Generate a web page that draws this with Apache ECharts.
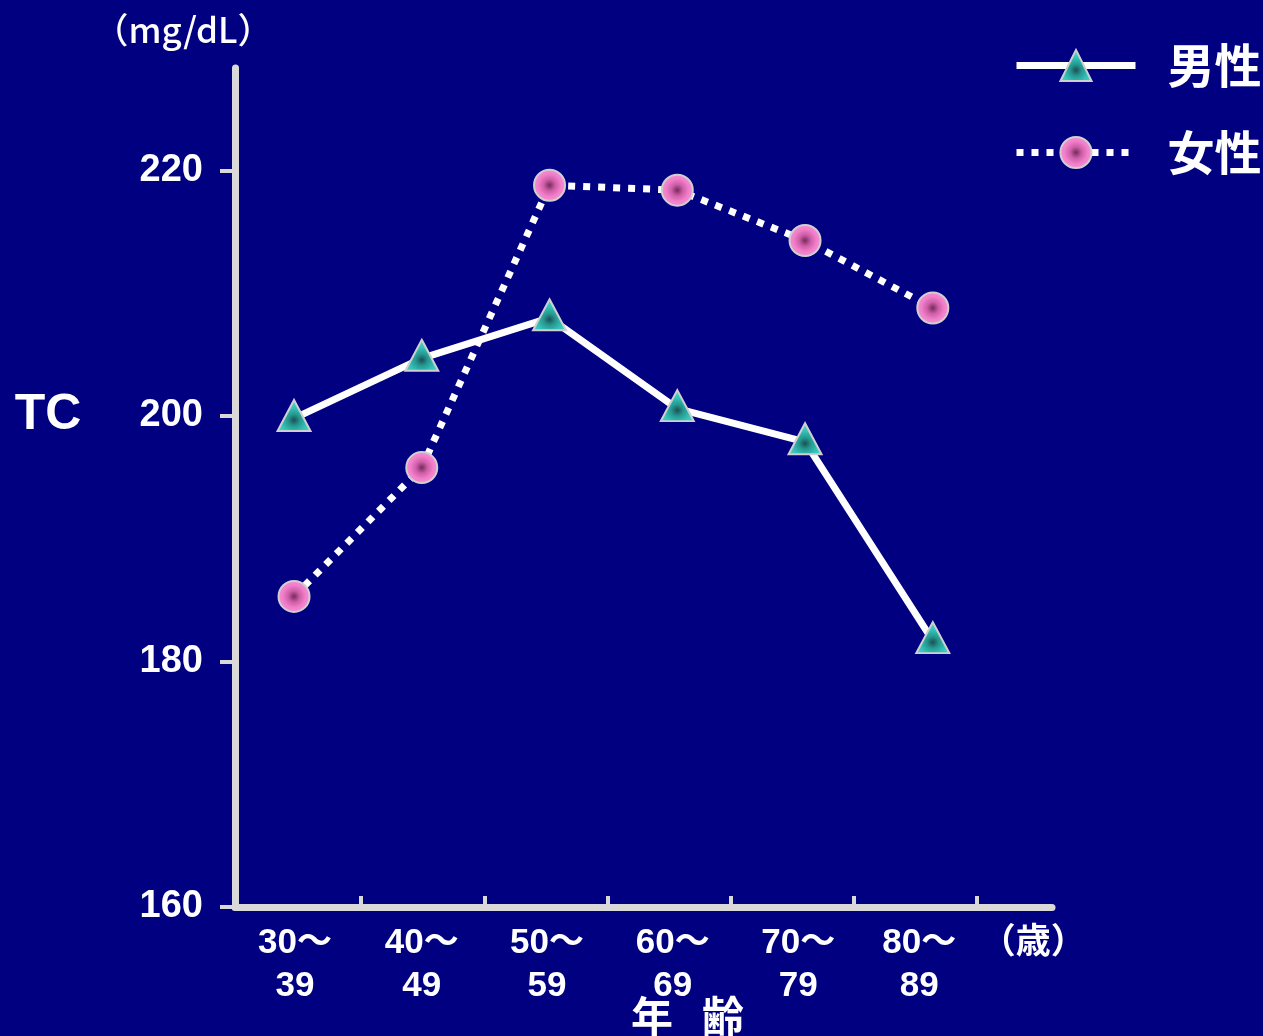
<!DOCTYPE html>
<html>
<head>
<meta charset="utf-8">
<script src="https://cdn.jsdelivr.net/npm/echarts@6/dist/echarts.min.js"></script>
<style>
  html, body { margin: 0; padding: 0; background: #000080; }
  #chart { width: 1263px; height: 1036px; }
</style>
</head>
<body>
<div id="chart"></div>
<script>
// Age groups (x axis) and the unit shown after them
const ageGroups = ['30～\n39', '40～\n49', '50～\n59', '60～\n69', '70～\n79', '80～\n89'];
const ageUnit = '（歳）';

// Mean total cholesterol (mg/dL) per age group
const maleTC = [199.8, 204.7, 208.0, 200.6, 197.9, 181.7];
const femaleTC = [185.3, 195.8, 218.8, 218.4, 214.3, 208.8];

// Y axis tick values and series names
const yTicks = [160, 180, 200, 220];
const seriesNames = ['男性', '女性'];

const AXIS_GREY = '#d9d9d9';
const LATIN = '"Liberation Sans", Arial, "Noto Sans CJK JP", sans-serif';
const CJK = '"Noto Sans CJK JP", "Noto Sans CJK SC", sans-serif';

const toPoints = arr => arr.map((v, i) => [i, v]);

// label anchors and group boundaries along the x axis (in group-index units)
const labelAt = [0.008, 1.0, 1.98, 2.965, 3.947, 4.894, 5.787];
const boundaryAt = [0.525, 1.49, 2.453, 3.42, 4.385, 5.341];

const triangleFill = {
  type: 'radial', x: 0.5, y: 0.64, r: 0.5,
  colorStops: [
    { offset: 0, color: '#1c4f55' },
    { offset: 0.35, color: '#259890' },
    { offset: 0.75, color: '#34c3ba' },
    { offset: 1, color: '#3fd0c6' }
  ]
};
const circleFill = {
  type: 'radial', x: 0.5, y: 0.5, r: 0.5,
  colorStops: [
    { offset: 0, color: '#752b5c' },
    { offset: 0.35, color: '#cd5ea7' },
    { offset: 0.7, color: '#f27fca' },
    { offset: 1, color: '#f88ed5' }
  ]
};

const chart = echarts.init(document.getElementById('chart'));

chart.setOption({
  backgroundColor: '#000080',
  animation: false,
  grid: {
    left: 235, right: 211, top: 68, bottom: 129,
    outerBoundsMode: 'none'
  },
  legend: {
    orient: 'vertical',
    left: 1013,
    top: 41,
    padding: 0,
    itemWidth: 119,
    itemHeight: 39,
    itemGap: 38,
    data: seriesNames,
    lineStyle: { width: 7, cap: 'butt' },
    textStyle: {
      color: '#ffffff',
      fontSize: 47,
      fontWeight: 'bold',
      fontFamily: CJK,
      lineHeight: 39,
      padding: [10, 0, 0, 27]
    }
  },
  xAxis: {
    type: 'value',
    min: -0.462,
    max: 5.933,
    splitLine: { show: false },
    axisLine: { show: true, lineStyle: { color: AXIS_GREY, width: 7 } },
    axisTick: {
      show: true,
      inside: true,
      length: 11,
      customValues: boundaryAt,
      lineStyle: { color: AXIS_GREY, width: 4 }
    },
    axisLabel: {
      customValues: labelAt,
      margin: 15,
      color: '#ffffff',
      fontSize: 35,
      fontWeight: 'bold',
      fontFamily: LATIN,
      lineHeight: 43,
      formatter: v => {
        const i = Math.round(v);
        return i < ageGroups.length ? ageGroups[i] : ageUnit;
      }
    }
  },
  yAxis: {
    type: 'value',
    min: 160,
    max: 228.35,
    interval: 20,
    splitLine: { show: false },
    axisLine: { show: true, onZero: false, lineStyle: { color: AXIS_GREY, width: 7 } },
    axisTick: {
      show: true,
      length: 15,
      customValues: yTicks,
      lineStyle: { color: AXIS_GREY, width: 4 }
    },
    axisLabel: {
      customValues: yTicks,
      margin: 32,
      color: '#ffffff',
      fontSize: 38,
      fontWeight: 'bold',
      fontFamily: LATIN
    }
  },
  series: [
    {
      name: seriesNames[0],
      type: 'line',
      data: toPoints(maleTC),
      symbol: 'triangle',
      symbolSize: [33, 31],
      symbolOffset: [0, -3],
      lineStyle: { color: '#ffffff', width: 7 },
      itemStyle: { color: triangleFill, borderColor: '#cfcfcf', borderWidth: 2 },
      emphasis: { disabled: true },
      z: 3
    },
    {
      name: seriesNames[1],
      type: 'line',
      data: toPoints(femaleTC),
      symbol: 'circle',
      symbolSize: 31,
      lineStyle: { color: '#ffffff', width: 7, type: [7, 8], cap: 'butt' },
      itemStyle: { color: circleFill, borderColor: '#cfcfcf', borderWidth: 2 },
      emphasis: { disabled: true },
      z: 2
    }
  ],
  graphic: [
    {
      type: 'text', x: 183, y: 30,
      style: {
        text: '（mg/dL）', fill: '#ffffff',
        fontSize: 35, fontWeight: 500, fontFamily: CJK,
        align: 'center', verticalAlign: 'middle'
      }
    },
    {
      type: 'text', x: 48, y: 415,
      style: {
        text: 'TC', fill: '#ffffff',
        fontSize: 50, fontWeight: 'bold', fontFamily: LATIN,
        align: 'center', verticalAlign: 'middle'
      }
    },
    {
      type: 'text', x: 652, y: 1016,
      style: {
        text: '年', fill: '#ffffff',
        fontSize: 42, fontWeight: 'bold', fontFamily: CJK,
        align: 'center', verticalAlign: 'middle'
      }
    },
    {
      type: 'text', x: 723, y: 1016,
      style: {
        text: '齢', fill: '#ffffff',
        fontSize: 42, fontWeight: 'bold', fontFamily: CJK,
        align: 'center', verticalAlign: 'middle'
      }
    }
  ]
});
</script>
</body>
</html>
